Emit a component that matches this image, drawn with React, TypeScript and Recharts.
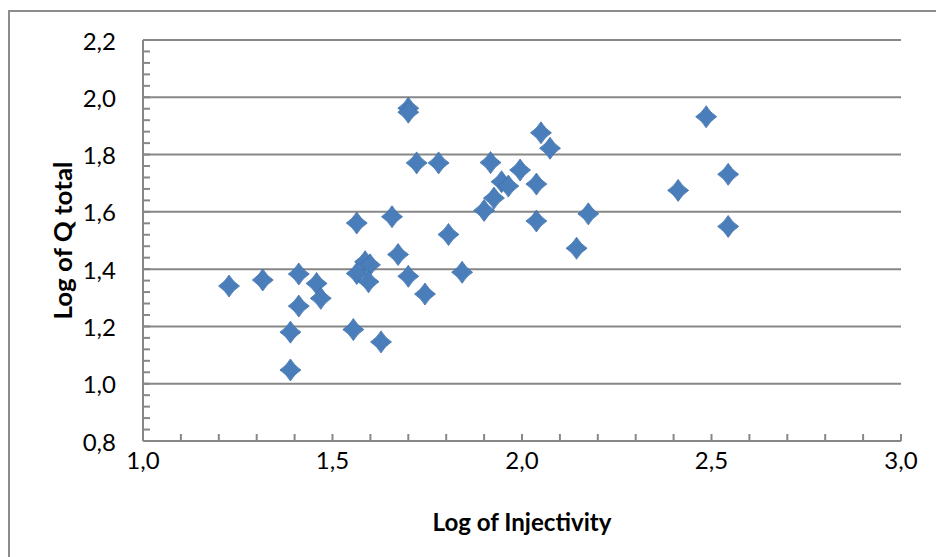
import React from 'react';
import { ScatterChart, Scatter, XAxis, YAxis, ReferenceLine } from 'recharts';

// Log of Injectivity (x) and Log of Q total (y), one entry per well
const injectivity = [
  1.227, 1.316, 1.411, 1.411, 1.389, 1.389, 1.458, 1.469, 1.564, 1.564,
  1.555, 1.586, 1.599, 1.595, 1.628, 1.657, 1.673, 1.700, 1.700, 1.700,
  1.722, 1.744, 1.780, 1.806, 1.842, 1.900, 1.917, 1.926, 1.946, 1.964,
  1.995, 2.038, 2.038, 2.050, 2.074, 2.144, 2.175, 2.412, 2.486, 2.544,
  2.544,
];
const qTotal = [
  1.341, 1.362, 1.383, 1.271, 1.180, 1.048, 1.350, 1.298, 1.561, 1.385,
  1.189, 1.426, 1.415, 1.356, 1.146, 1.583, 1.451, 1.962, 1.948, 1.375,
  1.771, 1.313, 1.771, 1.521, 1.389, 1.605, 1.772, 1.648, 1.705, 1.690,
  1.746, 1.697, 1.568, 1.876, 1.822, 1.473, 1.593, 1.675, 1.932, 1.731,
  1.549,
];

const xMajorTicks = [1.0, 1.5, 2.0, 2.5, 3.0];
const yMajorTicks = [0.8, 1.0, 1.2, 1.4, 1.6, 1.8, 2.0, 2.2];
const xMinorStep = 0.1;
const yMinorStep = 0.04;

const data = injectivity.map((x, i) => ({ x, y: qTotal[i] }));

const buildTicks = (from: number, to: number, step: number) => {
  const out: number[] = [];
  const n = Math.round((to - from) / step);
  for (let i = 0; i <= n; i++) out.push(Math.round((from + i * step) * 1000) / 1000);
  return out;
};
const xTicks = buildTicks(1.0, 3.0, xMinorStep);
const yTicks = buildTicks(0.8, 2.2, yMinorStep);

const isMajor = (v: number, majors: number[]) => majors.some((m) => Math.abs(m - v) < 1e-6);
const fmt = (v: number) => v.toFixed(1).replace('.', ',');

const AXIS = '#878787';
const FONT = "Lato, 'Noto Sans', sans-serif";

const XTick = (props: any) => {
  const { x, y, payload } = props;
  const v = payload.value;
  return (
    <g>
      <line x1={x} x2={x} y1={y} y2={y - 7} stroke={AXIS} strokeWidth={2} />
      {isMajor(v, xMajorTicks) && (
        <text x={x} y={y + 18} textAnchor="middle" dominantBaseline="central" fontFamily={FONT} fontSize={24} fill="#000">
          {fmt(v)}
        </text>
      )}
    </g>
  );
};

const YTick = (props: any) => {
  const { x, y, payload } = props;
  const v = payload.value;
  return (
    <g>
      <line x1={x} x2={x + 7} y1={y} y2={y} stroke={AXIS} strokeWidth={2} />
      {isMajor(v, yMajorTicks) && (
        <text x={x - 27} y={y} textAnchor="end" dominantBaseline="central" fontFamily={FONT} fontSize={24} fill="#000">
          {fmt(v)}
        </text>
      )}
    </g>
  );
};

const Diamond = (props: any) => {
  const { cx, cy } = props;
  if (cx == null || cy == null) return null;
  const w = 10.5;
  const h = 11;
  const k = 0.38;
  const d = `M${cx},${cy - h} Q${cx + w * k},${cy - h * k} ${cx + w},${cy} Q${cx + w * k},${cy + h * k} ${cx},${cy + h} Q${cx - w * k},${cy + h * k} ${cx - w},${cy} Q${cx - w * k},${cy - h * k} ${cx},${cy - h} Z`;
  return <path d={d} fill="#4a7ebb" stroke="#3d6fa9" strokeWidth={0.8} />;
};

export default function App() {
  return (
    <div style={{ position: 'absolute', left: 0, top: 0, width: 936, height: 557, background: '#fff', overflow: 'hidden' }}>
      <div
        style={{
          position: 'absolute',
          left: 8,
          top: 10,
          width: 928,
          height: 547,
          borderLeft: '2px solid #8c8c8c',
          borderTop: '2px solid #8c8c8c',
          boxSizing: 'border-box',
        }}
      />
      <div style={{ position: 'absolute', left: 0, top: 0 }}>
        <ScatterChart width={936} height={557} margin={{ top: 40, right: 35, bottom: 56, left: 83 }}>
          {yMajorTicks.slice(1).map((v) => (
            <ReferenceLine key={v} y={v} stroke={AXIS} strokeWidth={2} ifOverflow="extendDomain" />
          ))}
          <XAxis
            type="number"
            dataKey="x"
            domain={[1, 3]}
            ticks={xTicks}
            interval={0}
            tickSize={0}
            tickMargin={0}
            tickLine={false}
            tick={<XTick />}
            axisLine={{ stroke: AXIS, strokeWidth: 2 }}
            height={60}
            label={(p: any) => {
              const vb = p.viewBox;
              return (
                <text
                  x={vb.x + vb.width / 2}
                  y={vb.y + 80}
                  textAnchor="middle"
                  dominantBaseline="central"
                  fontFamily={FONT}
                  fontWeight="bold"
                  fontSize={25}
                  textLength={179}
                  lengthAdjust="spacingAndGlyphs"
                  fill="#000"
                >
                  Log of Injectivity
                </text>
              );
            }}
          />
          <YAxis
            type="number"
            dataKey="y"
            domain={[0.8, 2.2]}
            ticks={yTicks}
            interval={0}
            tickSize={0}
            tickMargin={0}
            tickLine={false}
            tick={<YTick />}
            axisLine={{ stroke: AXIS, strokeWidth: 2 }}
            width={60}
            label={(p: any) => {
              const vb = p.viewBox;
              const cx = vb.x - 21;
              const cy = vb.y + vb.height / 2;
              return (
                <text
                  x={cx}
                  y={cy}
                  transform={`rotate(-90 ${cx} ${cy})`}
                  textAnchor="middle"
                  dominantBaseline="central"
                  fontFamily={FONT}
                  fontWeight="bold"
                  fontSize={25}
                  textLength={158}
                  lengthAdjust="spacingAndGlyphs"
                  fill="#000"
                >
                  Log of Q total
                </text>
              );
            }}
          />
          <Scatter data={data} shape={<Diamond />} isAnimationActive={false} />
        </ScatterChart>
      </div>
    </div>
  );
}
